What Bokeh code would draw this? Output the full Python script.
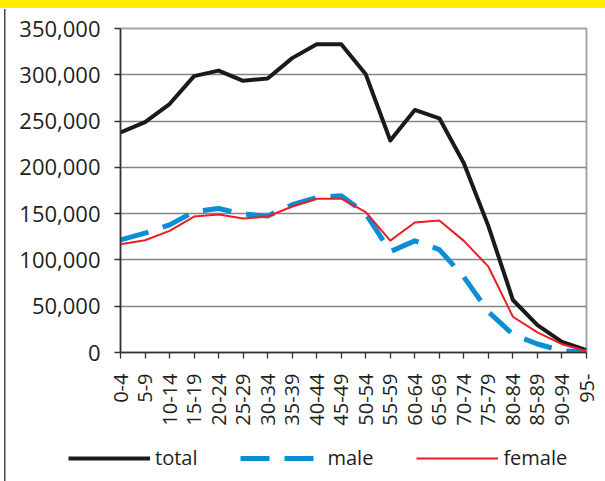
import math
from bokeh.plotting import figure
from bokeh.models import Range1d, FixedTicker, NumeralTickFormatter, Legend, LegendItem
from bokeh.embed import file_html
from bokeh.resources import INLINE

categories = ["0-4", "5-9", "10-14", "15-19", "20-24", "25-29", "30-34", "35-39",
              "40-44", "45-49", "50-54", "55-59", "60-64", "65-69", "70-74", "75-79",
              "80-84", "85-89", "90-94", "95-"]
total = [237700, 248900, 268400, 298500, 304500, 293500, 296000, 318000, 333000, 333000,
         300500, 229000, 262000, 253000, 204500, 136500, 56700, 29600, 11500, 2500]
male = [121700, 128900, 137900, 152000, 155600, 149500, 147500, 159600, 167500, 169300,
        150000, 109000, 120600, 111200, 81600, 44000, 19500, 9200, 1700, 700]
female = [117000, 121300, 131400, 146900, 149100, 144700, 146900, 157700, 166100, 166100,
          151700, 120900, 140400, 142600, 120600, 92700, 38600, 21700, 9000, 1700]
y_ticks = [0, 50000, 100000, 150000, 200000, 250000, 300000, 350000]
series_labels = ["total", "male", "female"]

FONT = "Open Sans"
TXT = "#231f20"
C_TOTAL, C_MALE, C_FEMALE = "#1a1a1a", "#0a8fd6", "#ee1c25"
STYLE_TOTAL = dict(line_color=C_TOTAL, line_width=4, line_join="round")
STYLE_MALE = dict(line_color=C_MALE, line_width=5, line_dash="29 15", line_join="round")
STYLE_FEMALE = dict(line_color=C_FEMALE, line_width=2, line_join="round")

xs = list(range(len(categories)))

page_bg = ("linear-gradient(#FFED00,#FFED00) 0px 0px / 605px 8px no-repeat, "
           "linear-gradient(#444444,#444444) 4px 9px / 1.5px 472px no-repeat, white")

p = figure(width=605, height=481, output_backend="svg", toolbar_location=None,
           x_range=Range1d(0, len(categories) - 1), y_range=Range1d(0, 350000),
           min_border_left=120, min_border_right=19, min_border_top=28, min_border_bottom=129,
           styles={"position": "absolute", "left": "0px", "top": "0px", "background": page_bg})
p.background_fill_color = "white"
p.border_fill_color = None
p.border_fill_alpha = 0
p.outline_line_color = "#a6a6a6"
p.outline_line_width = 2

p.xgrid.grid_line_color = None
p.ygrid.grid_line_color = "#858585"
p.ygrid.grid_line_width = 1.3
p.ygrid.ticker = FixedTicker(ticks=y_ticks)

p.yaxis.ticker = FixedTicker(ticks=y_ticks)
p.yaxis.formatter = NumeralTickFormatter(format="0,0")
p.yaxis.minor_tick_line_color = None
p.yaxis.major_tick_in = 0
p.yaxis.major_tick_out = 6
p.yaxis.major_label_standoff = 14
p.yaxis.axis_line_color = "#333333"
p.yaxis.axis_line_width = 1.5
p.yaxis.major_tick_line_color = "#333333"
p.yaxis.major_tick_line_width = 1.3
p.yaxis.major_label_text_font = FONT
p.yaxis.major_label_text_font_size = "22px"
p.yaxis.major_label_text_color = TXT

p.xaxis.ticker = FixedTicker(ticks=xs)
p.xaxis.major_label_overrides = {i: c for i, c in enumerate(categories)}
p.xaxis.major_label_orientation = math.pi / 2
p.xaxis.minor_tick_line_color = None
p.xaxis.major_tick_in = 0
p.xaxis.major_tick_out = 6
p.xaxis.major_label_standoff = 15
p.xaxis.axis_line_color = "#333333"
p.xaxis.axis_line_width = 1.5
p.xaxis.major_tick_line_color = "#333333"
p.xaxis.major_tick_line_width = 1.3
p.xaxis.major_label_text_font = FONT
p.xaxis.major_label_text_font_size = "20px"
p.xaxis.major_label_text_color = TXT

p.line(xs, total, **STYLE_TOTAL)
p.line(xs, male, **STYLE_MALE)
p.line(xs, female, **STYLE_FEMALE)

# legend strip, overlaid on the bottom of the chart; its series lie outside its ranges
lg = figure(width=605, height=40, output_backend="svg", toolbar_location=None,
            x_range=Range1d(1000, 1001), y_range=Range1d(0, 1), min_border=0,
            styles={"position": "absolute", "left": "0px", "top": "441px"})
lg.axis.visible = False
lg.grid.visible = False
lg.outline_line_color = None
lg.background_fill_alpha = 0
lg.border_fill_alpha = 0
l1 = lg.line(xs, total, **STYLE_TOTAL)
l2 = lg.line(xs, male, **STYLE_MALE)
l3 = lg.line(xs, female, **STYLE_FEMALE)
legend = Legend(items=[LegendItem(label=series_labels[0], renderers=[l1]),
                       LegendItem(label=series_labels[1], renderers=[l2]),
                       LegendItem(label=series_labels[2], renderers=[l3])],
                orientation="horizontal", location=(68, 10),
                glyph_width=82, glyph_height=20, label_height=20, label_standoff=5,
                spacing=43, padding=0, margin=0,
                border_line_color=None, background_fill_alpha=0,
                label_text_font=FONT, label_text_font_size="20px", label_text_color=TXT)
lg.add_layout(legend, "center")

open("out.html", "w").write(file_html([p, lg], INLINE))
